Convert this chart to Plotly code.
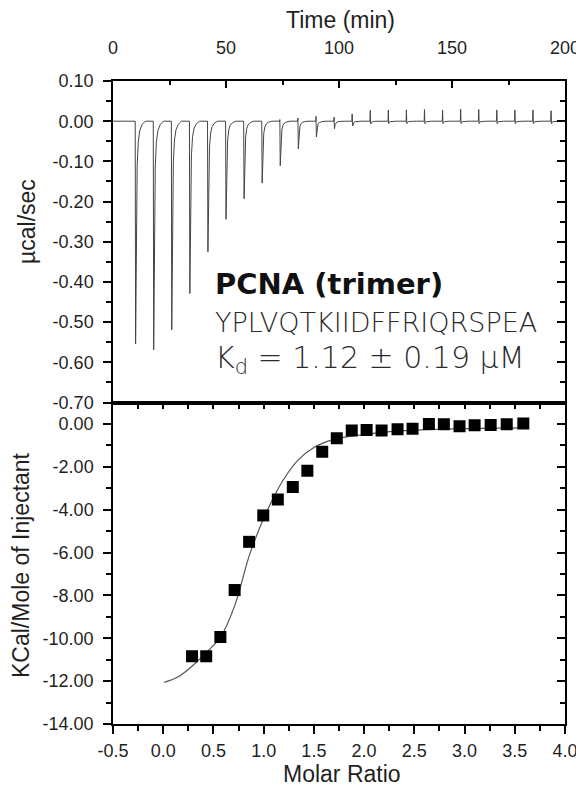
import plotly.graph_objects as go

# ---------------- data ----------------
# raw thermogram (top panel)
inj_time = [9.7, 17.7, 25.7, 33.7, 41.7, 49.7, 57.7, 65.7, 73.7, 81.7, 89.7, 97.7,
            105.7, 113.7, 121.7, 129.7, 137.7, 145.7, 153.7, 161.7, 169.7, 177.7, 185.7, 193.7]
inj_down = [0.554, 0.569, 0.519, 0.429, 0.325, 0.244, 0.193, 0.154, 0.111, 0.069, 0.039, 0.019,
            0.012, 0.007, 0.006, 0.006, 0.006, 0.006, 0.006, 0.006, 0.006, 0.006, 0.006, 0.006]
inj_up = [0, 0, 0, 0, 0, 0, 0, 0, 0.004, 0.008, 0.012, 0.010,
          0.018, 0.027, 0.028, 0.028, 0.029, 0.028, 0.030, 0.029, 0.028, 0.028, 0.028, 0.026]
# shape of one injection peak (min after injection, fraction of blip / of dip)
spike_dt = [0, 0.12, 0.3, 0.6, 1.0, 1.5, 2.2, 3.2, 4.6]
spike_up = [0, 1, 0, 0, 0, 0, 0, 0, 0]
spike_down = [0, 0, 1, 0.42, 0.2, 0.09, 0.04, 0.015, 0]

# integrated heats (bottom panel)
ratio = [0.287, 0.428, 0.569, 0.711, 0.855, 0.996, 1.141, 1.29, 1.435, 1.583, 1.728, 1.877,
         2.025, 2.174, 2.333, 2.482, 2.645, 2.794, 2.95, 3.10, 3.26, 3.42, 3.585]
heat = [-10.84, -10.84, -9.94, -7.75, -5.5, -4.27, -3.53, -2.94, -2.19, -1.30, -0.67, -0.31,
        -0.28, -0.31, -0.25, -0.22, 0.0, -0.02, -0.11, -0.06, -0.05, -0.02, 0.02]
fit_x = [0.01, 0.15, 0.30, 0.43, 0.57, 0.71, 0.86, 1.00, 1.07, 1.19, 1.34, 1.50, 1.70,
         1.90, 2.20, 2.50, 2.90, 3.30, 3.60]
fit_y = [-12.06, -11.8, -11.25, -10.66, -9.95, -8.5, -6.1, -4.4, -3.7, -2.65, -1.7, -1.1, -0.72,
         -0.55, -0.38, -0.29, -0.23, -0.2, -0.18]

# tick labels
time_ticks = [0, 50, 100, 150, 200]
top_y_vals = [0.10, 0.00, -0.10, -0.20, -0.30, -0.40, -0.50, -0.60, -0.70]
top_y_text = ["0.10", "0.00", "-0.10", "-0.20", "-0.30", "-0.40", "-0.50", "-0.60", "-0.70"]
bot_y_vals = [0, -2, -4, -6, -8, -10, -12, -14]
bot_y_text = ["0.00", "-2.00", "-4.00", "-6.00", "-8.00", "-10.00", "-12.00", "-14.00"]
bot_x_vals = [-0.5, 0.0, 0.5, 1.0, 1.5, 2.0, 2.5, 3.0, 3.5, 4.0]
bot_x_text = ["-0.5", "0.0", "0.5", "1.0", "1.5", "2.0", "2.5", "3.0", "3.5", "4.0"]

# ---------------- build raw trace ----------------
raw_t = [0.0]
raw_v = [0.0]
for t0, d, u in zip(inj_time, inj_down, inj_up):
    for dt, fu, fd in zip(spike_dt, spike_up, spike_down):
        raw_t.append(t0 + dt)
        raw_v.append(u * fu - d * fd)
raw_t.append(200.0)
raw_v.append(0.0)

# ---------------- figure ----------------
OFF = 8                      # page body margin of the html page
W, H = 584 - OFF, 793 - OFF
L, R, T, B = 113 - OFF, 19, 81 - OFF, 69
PW, PH = W - L - R, H - T - B

def px(xp):                  # page pixel -> paper fraction
    return (xp - OFF - L) / PW

def py(yp):
    return (H - B - (yp - OFF)) / PH

FONT = "Liberation Sans, Arial, sans-serif"
TXT = "#1f1f1f"
tickfont = dict(family=FONT, size=18, color=TXT)

fig = go.Figure()
fig.add_trace(go.Scatter(x=raw_t, y=raw_v, xaxis="x2", yaxis="y2", mode="lines",
                         line=dict(color="#444444", width=1), hoverinfo="skip", showlegend=False))
fig.add_trace(go.Scatter(x=raw_t, y=raw_v, xaxis="x2", yaxis="y4", mode="lines",
                         line=dict(color="rgba(0,0,0,0)", width=0), hoverinfo="skip", showlegend=False))
fig.add_trace(go.Scatter(x=fit_x, y=fit_y, xaxis="x", yaxis="y", mode="lines",
                         line=dict(color="#555555", width=1.2, shape="spline"),
                         hoverinfo="skip", showlegend=False))
fig.add_trace(go.Scatter(x=ratio, y=heat, xaxis="x", yaxis="y", mode="markers",
                         marker=dict(symbol="square", size=12, color="black"),
                         hoverinfo="skip", showlegend=False))
fig.add_trace(go.Scatter(x=ratio, y=heat, xaxis="x3", yaxis="y3", mode="markers",
                         marker=dict(size=1, color="rgba(0,0,0,0)"),
                         hoverinfo="skip", showlegend=False))

axline = dict(showline=True, linecolor="black", linewidth=1.5, showgrid=False, zeroline=False,
              tickcolor="black", tickwidth=1.5, automargin=False)
hid = dict(showline=False, showgrid=False, zeroline=False, tickcolor="black", tickwidth=1.5,
           showticklabels=False, automargin=False)

fig.update_layout(
    width=W, height=H,
    margin=dict(l=L, r=R, t=T, b=B),
    paper_bgcolor="white", plot_bgcolor="white",
    showlegend=False,
    # bottom panel
    xaxis=dict(domain=[0, 1], anchor="y", range=[-0.5, 4.0], tickvals=bot_x_vals, ticktext=bot_x_text,
               ticks="outside", ticklen=8, tickfont=tickfont, mirror=True, ticklabelstandoff=2,
               minor=dict(ticks="outside", ticklen=5, dtick=0.25, tick0=0, tickcolor="black", tickwidth=1.5),
               **axline),
    yaxis=dict(domain=[0, 0.5], anchor="x", range=[-14, 1.0], tickvals=bot_y_vals, ticktext=bot_y_text,
               ticks="outside", ticklen=8, tickfont=tickfont, mirror=True, ticklabelstandoff=6,
               minor=dict(ticks="outside", ticklen=5, dtick=1, tick0=0, tickcolor="black", tickwidth=1.5),
               **axline),
    xaxis3=dict(overlaying="x", anchor="y", side="top", range=[-0.5, 4.0], tickvals=bot_x_vals,
                ticks="inside", ticklen=6,
                minor=dict(ticks="inside", ticklen=6, dtick=0.25, tick0=0, tickcolor="black", tickwidth=1.5),
                **hid),
    yaxis3=dict(overlaying="y", anchor="x", side="right", range=[-14, 1.0], tickvals=bot_y_vals,
                ticks="inside", ticklen=8,
                minor=dict(ticks="inside", ticklen=5, dtick=1, tick0=0, tickcolor="black", tickwidth=1.5),
                **hid),
    # top panel
    xaxis2=dict(domain=[0, 1], anchor="y2", side="top", range=[0, 200], tickvals=time_ticks,
                ticks="inside", ticklen=7, tickfont=tickfont, mirror=True, ticklabelstandoff=18,
                minor=dict(ticks="inside", ticklen=4, dtick=25, tick0=0, tickcolor="black", tickwidth=1.5),
                **axline),
    yaxis2=dict(domain=[0.5, 1], anchor="x2", range=[-0.70, 0.10], tickvals=top_y_vals, ticktext=top_y_text,
                ticks="outside", ticklen=8, tickfont=tickfont, mirror=True, ticklabelstandoff=6,
                minor=dict(ticks="outside", ticklen=5, dtick=0.05, tick0=0, tickcolor="black", tickwidth=1.5),
                **axline),
    yaxis4=dict(overlaying="y2", anchor="x2", side="right", range=[-0.70, 0.10], tickvals=top_y_vals,
                ticks="inside", ticklen=8,
                minor=dict(ticks="inside", ticklen=5, dtick=0.05, tick0=0, tickcolor="black", tickwidth=1.5),
                **hid),
)

titlefont = dict(family=FONT, size=23, color=TXT)
ann = [
    dict(text="Time (min)", x=px(340), y=py(20), font=titlefont),
    dict(text="Molar Ratio", x=px(342), y=py(774), font=titlefont),
    dict(text="µcal/sec", x=px(27), y=py(222), font=titlefont, textangle=-90),
    dict(text="KCal/Mole of Injectant", x=px(21), y=py(565), font=titlefont, textangle=-90),
]
LBL = "DejaVu Sans, sans-serif"
LC = "#2a2a2a"
ann += [
    dict(text="<b>PCNA (trimer)</b>", x=px(213), y=py(284), xanchor="left",
         font=dict(family=LBL, size=29, color="#111111")),
    dict(text="YPLVQTKIIDFFRIQRSPEA", x=px(213), y=py(322), xanchor="left",
         font=dict(family=LBL, size=27, color=LC, weight=200)),
    dict(text=f"K<sub><span style='color:{LC}'>d</span></sub> = 1.12 ± 0.19 µM", x=px(213), y=py(359),
         xanchor="left", font=dict(family=LBL, size=30, color=LC, weight=200)),
]
for a in ann:
    a.setdefault("xanchor", "center")
    a.update(xref="paper", yref="paper", showarrow=False, yanchor="middle")
fig.update_layout(annotations=ann)

fig.write_html("out.html")
